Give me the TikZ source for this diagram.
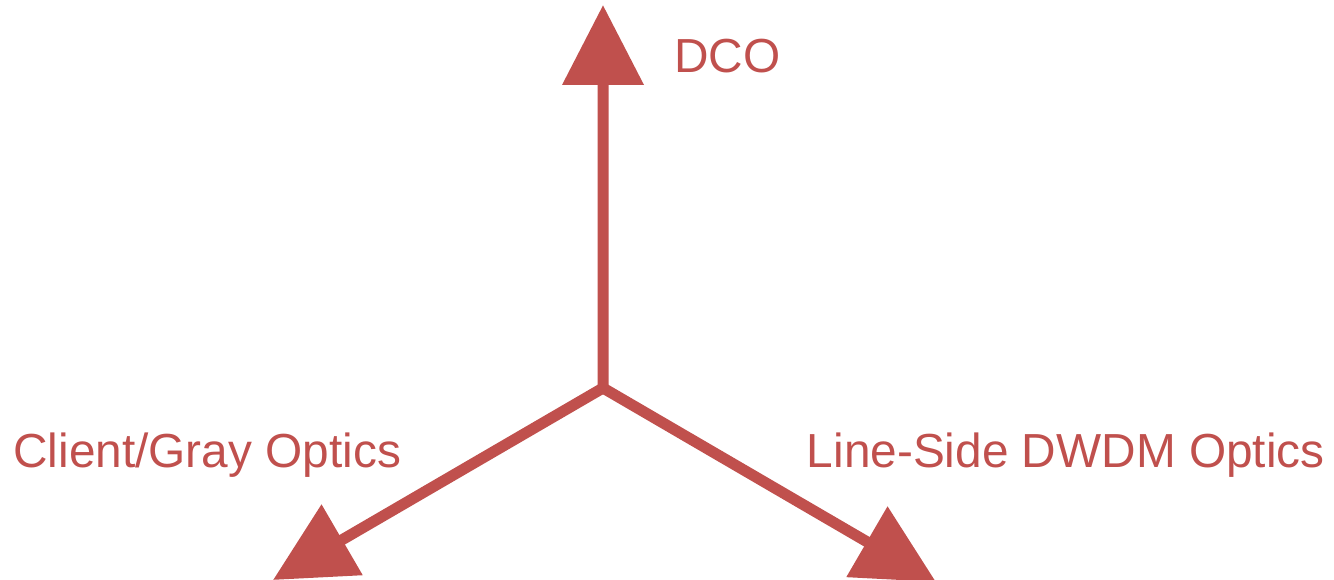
\documentclass[tikz,border=0pt]{standalone}
\usepackage{fontspec}
\setmainfont{Liberation Sans}
\usetikzlibrary{arrows.meta}
\definecolor{axisred}{HTML}{C0504D}

\begin{document}
\begin{tikzpicture}[x=0.02cm,y=-0.02cm]
	\tikzstyle{every node}+=[inner sep=0pt, text=axisred, font=\fontsize{27.2}{33}\selectfont]
	\tikzstyle{axis}=[draw=axisred, line width=0.22cm, line join=miter]
	\useasboundingbox (0,0) rectangle (1334,580);
	\coordinate (o) at (603,388);
	\coordinate (dco) at (603,5);
	\coordinate (client) at (273,580);
	\coordinate (line) at (936,582);
	\draw [axis, {Triangle[width=1.58cm,length=1.6cm]}-{Triangle[width=1.58cm,length=1.6cm]}] (dco) -- (o) -- (line);
	\draw [axis, -{Triangle[width=1.58cm,length=1.6cm]}] (o) -- (client);
	\node [anchor=west] (dcol) at (674,56) {DCO};
	\node [anchor=west] (clientl) at (13,455) {Client/Gray Optics};
	\node [anchor=east] (linel) at (1325,455) {Line-Side DWDM Optics};
\end{tikzpicture}
\end{document}
